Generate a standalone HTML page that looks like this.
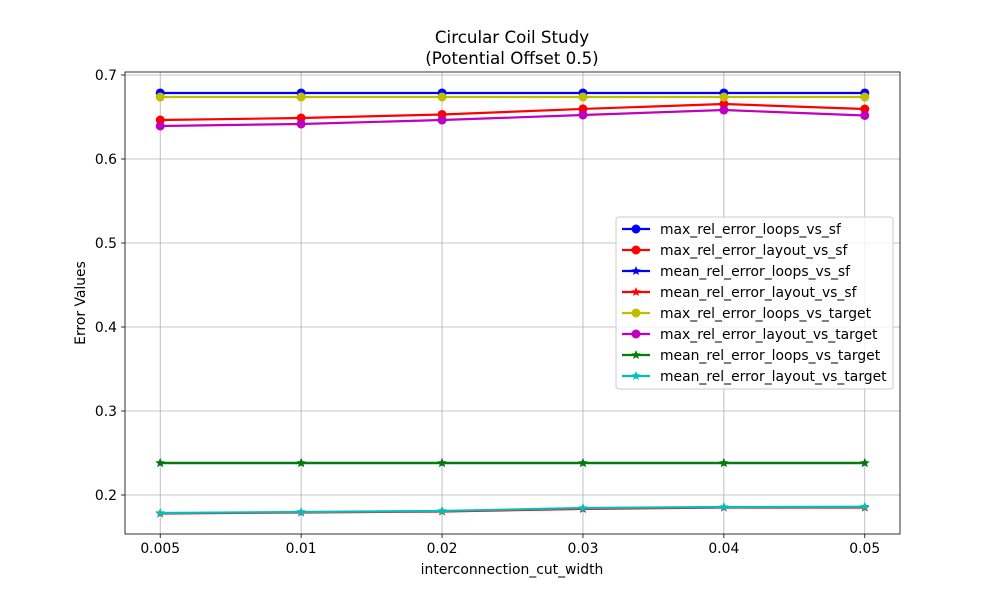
<!DOCTYPE html>
<html><head><meta charset="utf-8"><style>
body{margin:0;background:#fff}
svg{font-family:"DejaVu Sans","Liberation Sans",sans-serif}
</style></head><body>
<svg id="chart" width="1000" height="600"></svg>
<script>
const categories=["0.005","0.01","0.02","0.03","0.04","0.05"];
const maxLoopsSf=[0.6786,0.6786,0.6786,0.6786,0.6786,0.6786];
const maxLayoutSf=[0.6464,0.6488,0.6530,0.6596,0.6655,0.6595];
const meanLoopsSf=[0.2381,0.2381,0.2381,0.2381,0.2381,0.2381];
const meanLayoutSf=[0.1780,0.1792,0.1804,0.1834,0.1851,0.1851];
const maxLoopsTarget=[0.6738,0.6738,0.6738,0.6738,0.6738,0.6738];
const maxLayoutTarget=[0.6393,0.6417,0.6464,0.6524,0.6583,0.6518];
const meanLoopsTarget=[0.2381,0.2381,0.2381,0.2381,0.2381,0.2381];
const meanLayoutTarget=[0.1786,0.1798,0.1810,0.1845,0.1857,0.1860];
const yTicks=[0.2,0.3,0.4,0.5,0.6,0.7];
const seriesNames=["max_rel_error_loops_vs_sf","max_rel_error_layout_vs_sf","mean_rel_error_loops_vs_sf","mean_rel_error_layout_vs_sf","max_rel_error_loops_vs_target","max_rel_error_layout_vs_target","mean_rel_error_loops_vs_target","mean_rel_error_layout_vs_target"];
const series=[maxLoopsSf,maxLayoutSf,meanLoopsSf,meanLayoutSf,maxLoopsTarget,maxLayoutTarget,meanLoopsTarget,meanLayoutTarget];
const colors=["#0000ff","#ff0000","#0000ff","#ff0000","#bfbf00","#bf00bf","#007f00","#00bfbf"];
const markers=["o","o","*","*","o","o","*","*"];

const L=125,R=900,T=72,B=534;
const x=i=>L+(i+0.25)*(R-L)/(categories.length-0.5);
const y=v=>495-(v-0.2)*840;
const svg=document.getElementById('chart');
const NS="http://www.w3.org/2000/svg";
function mk(tag,attrs,parent){const e=document.createElementNS(NS,tag);for(const k in attrs)e.setAttribute(k,attrs[k]);(parent||svg).appendChild(e);return e;}
function star(cx,cy,r){let p=[];for(let k=0;k<10;k++){const a=-Math.PI/2+k*Math.PI/5;const rr=k%2?r*0.45:r;p.push((cx+rr*Math.cos(a)).toFixed(1)+","+(cy+rr*Math.sin(a)).toFixed(1));}return p.join(" ");}

categories.forEach((c,i)=>{
  const g=mk('line',{x1:x(i),x2:x(i),y1:T,y2:B,stroke:'#b0b0b0','stroke-width':0.8});
  
  mk('line',{x1:x(i),x2:x(i),y1:B,y2:B+4,stroke:'#000','stroke-width':0.8});
  const t=mk('text',{x:x(i),y:B+19,'text-anchor':'middle','font-size':13.9});t.textContent=c;
  
});
yTicks.forEach(v=>{
  const g=mk('line',{x1:L,x2:R,y1:y(v),y2:y(v),stroke:'#b0b0b0','stroke-width':0.8});
  
  mk('line',{x1:L-4,x2:L,y1:y(v),y2:y(v),stroke:'#000','stroke-width':0.8});
  const t=mk('text',{x:L-8,y:y(v)+5,'text-anchor':'end','font-size':13.9});t.textContent=v.toFixed(1);
  
});
series.forEach((s,si)=>{
  const g=mk('g',{});
  
  
  mk('polyline',{points:s.map((v,i)=>x(i)+","+y(v)).join(" "),fill:'none',stroke:colors[si],'stroke-width':2.2},g);
  s.forEach((v,i)=>{
    let m;
    if(markers[si]==="o") m=mk('circle',{cx:x(i),cy:y(v),r:4.5,fill:colors[si]},g);
    else m=mk('polygon',{points:star(x(i),y(v),5),fill:colors[si]},g);
    
  });
});
const box=mk('rect',{x:L,y:T,width:R-L,height:B-T,fill:'none',stroke:'#000','stroke-width':0.8});

let t=mk('text',{x:512,y:43,'text-anchor':'middle','font-size':16.7});t.textContent="Circular Coil Study";

t=mk('text',{x:512,y:64,'text-anchor':'middle','font-size':16.7});t.textContent="(Potential Offset 0.5)";

t=mk('text',{x:512,y:574,'text-anchor':'middle','font-size':13.9});t.textContent="interconnection_cut_width";

t=mk('text',{x:85,y:303,'text-anchor':'middle','font-size':13.9,transform:'rotate(-90 85 303)'});t.textContent="Error Values";

const lg=mk('g',{});
mk('rect',{x:616,y:217,width:277,height:172,rx:3,fill:'#fff','fill-opacity':0.8,stroke:'#cccccc'},lg);
seriesNames.forEach((n,i)=>{
  const yy=229+i*21;
  const e=mk('g',{},lg);
  mk('line',{x1:622,x2:650,y1:yy,y2:yy,stroke:colors[i],'stroke-width':2.2},e);
  if(markers[i]==="o") mk('circle',{cx:636,cy:yy,r:4.5,fill:colors[i]},e);
  else mk('polygon',{points:star(636,yy,5),fill:colors[i]},e);
  const tx=mk('text',{x:660,y:yy+5,'font-size':13.9},e);tx.textContent=n;
});
</script>
</body></html>
